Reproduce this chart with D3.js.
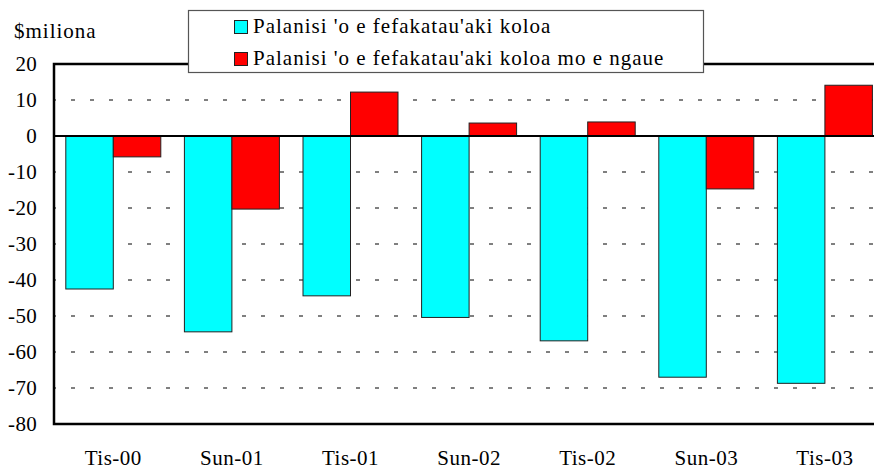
<!DOCTYPE html>
<html>
<head>
<meta charset="utf-8">
<script src="https://cdn.jsdelivr.net/npm/d3@7"></script>
<style>
  body { margin: 0; background: #fff; }
</style>
</head>
<body>
<div id="chart"></div>
<script>
// Categories and series (values in $ millions)
const categories = ["Tis-00", "Sun-01", "Tis-01", "Sun-02", "Tis-02", "Sun-03", "Tis-03"];
const seriesNames = ["Palanisi 'o e fefakatau'aki koloa", "Palanisi 'o e fefakatau'aki koloa mo e ngaue"];
const tradeBalance = [-42.5, -54.4, -44.4, -50.4, -56.9, -67.0, -68.7];
const goodsServicesBalance = [-5.8, -20.3, 12.2, 3.6, 3.9, -14.7, 14.1];
const yTicks = [20, 10, 0, -10, -20, -30, -40, -50, -60, -70, -80];
const colors = ["#00ffff", "#ff0000"];

var width = 874, height = 471;
var margin = { top: 64, left: 54, bottom: 47 };
var serif = "Liberation Serif";

var svg = d3.select("#chart")
    .append("svg")
    .attr("width", width)
    .attr("height", height);

// Scales - plot runs off the right edge of the picture
var x = d3.scaleBand()
    .domain(categories)
    .range([margin.left, margin.left + 7 * 118.6])
    .paddingInner(0.2)
    .paddingOuter(0.1);
// bars are flush within a group
var groupW = 95;

var y = d3.scaleLinear()
    .domain([-80, 20])
    .range([height - margin.bottom, margin.top]);

// Dashed gridlines
svg.append("g")
    .selectAll("line")
    .data(yTicks.filter(d => d !== 20 && d !== 0 && d !== -80))
    .enter()
    .append("line")
    .attr("x1", margin.left)
    .attr("x2", width)
    .attr("y1", d => y(d))
    .attr("y2", d => y(d))
    .attr("stroke", "#000")
    .attr("stroke-width", 1)
    .attr("stroke-dasharray", "4,15")
    .attr("stroke-dashoffset", 2);

// Bars
var series = [tradeBalance, goodsServicesBalance];
series.forEach((vals, s) => {
    svg.append("g")
        .selectAll("rect")
        .data(vals)
        .enter()
        .append("rect")
        .attr("x", (d, i) => x(categories[i]) + x.bandwidth() / 2 - groupW / 2 + s * groupW / 2)
        .attr("y", d => y(Math.max(0, d)))
        .attr("width", groupW / 2)
        .attr("height", d => Math.abs(y(d) - y(0)))
        .attr("fill", colors[s])
        .attr("stroke", "#222")
        .attr("stroke-width", 1);
});

// Zero line and frame
svg.append("line")
    .attr("x1", margin.left).attr("x2", width)
    .attr("y1", y(0)).attr("y2", y(0))
    .attr("stroke", "#000").attr("stroke-width", 2);

svg.append("path")
    .attr("d", "M" + width + "," + y(20) + "H" + margin.left + "V" + y(-80) + "H" + width)
    .attr("fill", "none")
    .attr("stroke", "#000")
    .attr("stroke-width", 2.5);

// Y axis labels
svg.append("g")
    .selectAll("text")
    .data(yTicks)
    .enter()
    .append("text")
    .attr("x", 37)
    .attr("y", d => y(d))
    .attr("dy", "0.34em")
    .attr("text-anchor", "end")
    .attr("font-family", serif)
    .attr("font-size", 21)
    .attr("letter-spacing", 0.3)
    .text(d => d);

svg.append("text")
    .attr("x", 14)
    .attr("y", 38)
    .attr("font-family", serif)
    .attr("font-size", 21)
    .attr("letter-spacing", 1)
    .text("$miliona");

// X axis labels
svg.append("g")
    .selectAll("text")
    .data(categories)
    .enter()
    .append("text")
    .attr("x", d => x(d) + x.bandwidth() / 2)
    .attr("y", 465)
    .attr("text-anchor", "middle")
    .attr("font-family", serif)
    .attr("font-size", 21)
    .attr("letter-spacing", 0.5)
    .text(d => d);

// Legend
var legend = svg.append("g");
legend.append("rect")
    .attr("x", 188.5).attr("y", 10.5)
    .attr("width", 515).attr("height", 62)
    .attr("fill", "#fff")
    .attr("stroke", "#555")
    .attr("stroke-width", 1.2);

seriesNames.forEach((name, i) => {
    legend.append("rect")
        .attr("x", 234.5).attr("y", 20.5 + i * 32)
        .attr("width", 13).attr("height", 13)
        .attr("fill", colors[i])
        .attr("stroke", "#222");
    legend.append("text")
        .attr("x", 253)
        .attr("y", 33 + i * 32)
        .attr("font-family", serif)
        .attr("font-size", 21)
        .attr("letter-spacing", 1)
        .text(name);
});
</script>
</body>
</html>
